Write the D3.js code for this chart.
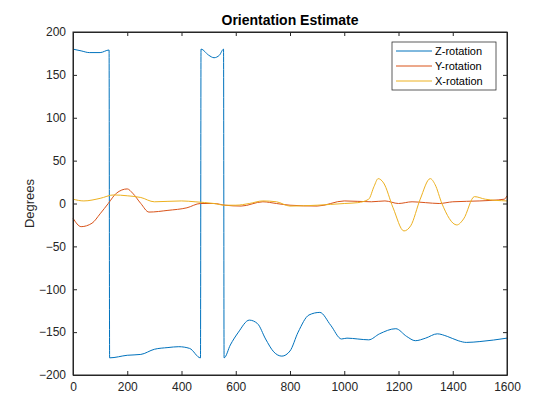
<!DOCTYPE html>
<html><head><meta charset="utf-8">
<script src="https://cdn.jsdelivr.net/npm/d3@7"></script>
<style>body{margin:0;background:#fff}text{font-family:Arial,"Liberation Sans",sans-serif}</style>
</head><body><svg id="chart"></svg>
<script>
const zRotation = [[0,180],[30,178],[60,176],[100,176],[133,179],[135,-180],[200,-177],[250,-176],[300,-170],[350,-168],[390,-167],[430,-169],[470,-180],[472,180],[500,173],[520,170],[540,173],[555,180],[557,-180],[580,-165],[610,-150],[650,-136],[680,-140],[710,-158],[740,-173],[770,-178],[800,-172],[830,-150],[870,-130],[910,-127],[950,-142],[990,-158],[1010,-157],[1050,-158],[1090,-159],[1130,-152],[1190,-146],[1230,-155],[1262,-160],[1300,-157],[1343,-152],[1380,-155],[1420,-160],[1450,-162],[1500,-161],[1600,-157]];
const yRotation = [[0,-17],[30,-27],[70,-23],[100,-12],[130,0],[160,12],[200,17],[220,12],[250,0],[280,-10],[350,-8],[420,-5],[470,0],[520,0],[560,-2],[620,-3],[700,2],[750,0],[800,-2],[900,-3],[1000,3],[1100,2],[1150,3],[1200,0],[1250,2],[1300,1],[1350,0],[1400,2],[1500,3],[1590,5],[1600,9]];
const xRotation = [[0,5],[40,3],[100,6],[150,10],[200,9],[250,7],[300,2],[400,3],[450,2],[520,0],[560,-2],[600,-2],[650,0],[700,3],[750,2],[800,-3],[900,-2],[1000,0],[1050,1],[1090,5],[1110,20],[1125,29],[1145,24],[1180,-5],[1220,-32],[1245,-26],[1280,5],[1317,29],[1335,22],[1360,0],[1415,-25],[1440,-18],[1480,8],[1520,5],[1600,3]];
const seriesNames = ["Z-rotation","Y-rotation","X-rotation"];
const colors = ["#0072BD","#D95319","#EDB120"];
const xTicks = d3.range(0,1601,200), yTicks = d3.range(-200,201,50);

const W=560,H=420,m={top:32,right:53,bottom:45,left:73};
const svg=d3.select("#chart").attr("width",W).attr("height",H);
const x=d3.scaleLinear().domain([0,1600]).range([m.left,W-m.right]);
const y=d3.scaleLinear().domain([-200,200]).range([H-m.bottom,m.top]);
const g=svg.append("g");
const line=d3.line().x(d=>x(d[0])).y(d=>y(d[1])).curve(d3.curveMonotoneX);
[zRotation,yRotation,xRotation].forEach((s,i)=>{
  g.append("path").datum(s).attr("d",line).attr("fill","none").attr("stroke",colors[i]).attr("stroke-width",1);
});
svg.append("rect").attr("x",m.left).attr("y",m.top).attr("width",W-m.left-m.right).attr("height",H-m.top-m.bottom).attr("fill","none").attr("stroke","#262626");
const fmt=d3.format("d");
const ax=svg.append("g").attr("transform",`translate(0,${H-m.bottom})`).call(d3.axisBottom(x).tickValues(xTicks).tickFormat(fmt).tickSize(-4).tickSizeOuter(0).tickPadding(7));
const ay=svg.append("g").attr("transform",`translate(${m.left},0)`).call(d3.axisLeft(y).tickValues(yTicks).tickFormat(fmt).tickSize(-4).tickSizeOuter(0).tickPadding(7));
const ax2=svg.append("g").attr("transform",`translate(0,${m.top})`).call(d3.axisTop(x).tickValues(xTicks).tickSize(-4).tickSizeOuter(0).tickFormat(""));
const ay2=svg.append("g").attr("transform",`translate(${W-m.right},0)`).call(d3.axisRight(y).tickValues(yTicks).tickSize(-4).tickSizeOuter(0).tickFormat(""));
[ax,ay,ax2,ay2].forEach(a=>{a.select(".domain").attr("stroke","#262626");a.selectAll("line").attr("stroke","#262626");a.selectAll("text").attr("fill","#262626").style("font-size","12px");});
svg.append("text").attr("x",(m.left+W-m.right)/2).attr("y",25).attr("text-anchor","middle").style("font-size","14px").style("font-weight","bold").attr("fill","#000").text("Orientation Estimate");
svg.append("text").attr("transform",`translate(34,${(m.top+H-m.bottom)/2}) rotate(-90)`).attr("text-anchor","middle").style("font-size","13px").attr("fill","#262626").text("Degrees");
const lg=svg.append("g").attr("transform","translate(392,42)");
lg.append("rect").attr("width",104).attr("height",48).attr("fill","#fff").attr("stroke","#262626").attr("stroke-width",0.75);
seriesNames.forEach((n,i)=>{
  const yy=9+i*15;
  lg.append("line").attr("x1",4).attr("x2",40).attr("y1",yy).attr("y2",yy).attr("stroke",colors[i]);
  lg.append("text").attr("x",43).attr("y",yy+4).style("font-size","11px").attr("fill","#000").text(n);
});
</script></body></html>
